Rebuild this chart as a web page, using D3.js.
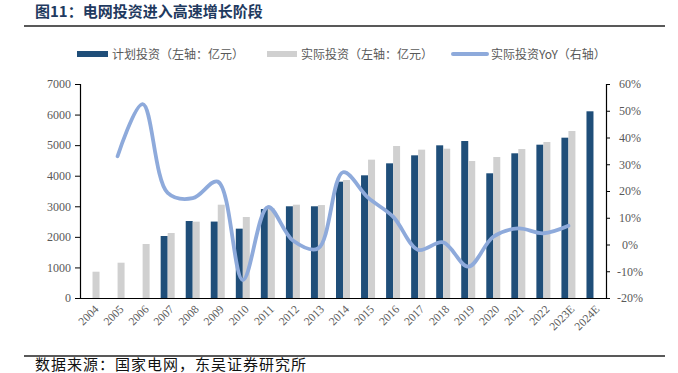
<!DOCTYPE html>
<html>
<head>
<meta charset="utf-8">
<title>电网投资进入高速增长阶段</title>
<script src="https://cdn.jsdelivr.net/npm/d3@7"></script>
<style>
  body { margin: 0; background: #fff; }
  svg { display: block; }
</style>
</head>
<body>
<div class="chart-area"></div>
<script>
// data
var years = ['2004','2005','2006','2007','2008','2009','2010','2011','2012','2013','2014',
             '2015','2016','2017','2018','2019','2020','2021','2022','2023E','2024E'];
var plan = [null, null, null, 2028, 2518, 2500, 2268, 2911, 3000, 3000, 3805,
            4013, 4405, 4667, 4994, 5135, 4079, 4733, 5015, 5244, 6107];
var actual = [860, 1155, 1766, 2126, 2497, 3052, 2650, 2930, 3052, 3040, 3860,
              4525, 4972, 4852, 4884, 4481, 4612, 4873, 5103, 5463, null];
var yoy = [null, 33, 52.5, 19.3, 17.3, 23.5, -13.3, 14, 1.5, -1.5, 27,
           17.5, 10.4, -2, 0.8, -8.3, 2.9, 6, 4.2, 7, null];
var leftTicks = [0, 1000, 2000, 3000, 4000, 5000, 6000, 7000];
var rightTicks = [-20, -10, 0, 10, 20, 30, 40, 50, 60];

var W = 678, H = 373;
var margin = { left: 80, right: 72, top: 84, bottom: 75 };
var width = W - margin.left - margin.right,
    height = H - margin.top - margin.bottom;

var serif = '"Liberation Serif", "Times New Roman", serif';
var cjk = '"Noto Sans CJK SC", sans-serif';
var planColor = '#1f4e79', actualColor = '#d0d0d0', lineColor = '#8eaadb';

var svg = d3.select('.chart-area').append('svg')
    .attr('width', W).attr('height', H);

// title + rules
svg.append('text')
    .attr('x', 35).attr('y', 17)
    .attr('font-family', cjk).attr('font-size', 15).attr('font-weight', 'bold')
    .attr('fill', '#1f3a60')
    .text('图11：电网投资进入高速增长阶段');
svg.append('line').attr('x1', 24).attr('x2', 665).attr('y1', 26).attr('y2', 26)
    .attr('stroke', '#222').attr('stroke-width', 1.5);
svg.append('line').attr('x1', 24).attr('x2', 665).attr('y1', 356).attr('y2', 356)
    .attr('stroke', '#222').attr('stroke-width', 1.5);
svg.append('text')
    .attr('x', 35).attr('y', 370)
    .attr('font-family', cjk).attr('font-size', 15).attr('letter-spacing', 1)
    .attr('fill', '#111')
    .text('数据来源：国家电网，东吴证券研究所');

// legend
var legend = [
  { label: '计划投资（左轴：亿元）', x: 77, w: 31, type: 'bar', color: planColor },
  { label: '实际投资（左轴：亿元）', x: 267, w: 30, type: 'bar', color: actualColor },
  { label: '实际投资YoY（右轴）', x: 453, w: 34, type: 'line', color: lineColor }
];
var lg = svg.append('g').selectAll('g').data(legend).enter().append('g');
lg.each(function(d) {
  var g = d3.select(this);
  if (d.type === 'bar') {
    g.append('rect').attr('x', d.x).attr('y', 51).attr('width', d.w).attr('height', 6).attr('fill', d.color);
  } else {
    g.append('line').attr('x1', d.x).attr('x2', d.x + d.w).attr('y1', 54).attr('y2', 54)
      .attr('stroke', d.color).attr('stroke-width', 4).attr('stroke-linecap', 'round');
  }
  g.append('text').attr('x', d.x + d.w + 4).attr('y', 58.5)
    .attr('font-family', cjk).attr('font-size', 12).attr('fill', '#595959')
    .text(d.label);
});

var g = svg.append('g').attr('transform', 'translate(' + margin.left + ',' + margin.top + ')');

var x = d3.scaleBand().domain(years).range([0, width]);
var yL = d3.scaleLinear().domain([0, 7000]).range([height, 0]);
var yR = d3.scaleLinear().domain([-20, 60]).range([height, 0]);
var barW = 7;

// bars
g.append('g').selectAll('rect.plan')
  .data(years.map(function(y, i) { return { year: y, v: plan[i] }; }).filter(function(d) { return d.v != null; }))
  .enter().append('rect')
  .attr('x', function(d) { return x(d.year) + x.bandwidth() / 2 - barW; })
  .attr('y', function(d) { return yL(d.v); })
  .attr('width', barW)
  .attr('height', function(d) { return height - yL(d.v); })
  .attr('fill', planColor);

g.append('g').selectAll('rect.actual')
  .data(years.map(function(y, i) { return { year: y, v: actual[i] }; }).filter(function(d) { return d.v != null; }))
  .enter().append('rect')
  .attr('x', function(d) { return x(d.year) + x.bandwidth() / 2; })
  .attr('y', function(d) { return yL(d.v); })
  .attr('width', barW)
  .attr('height', function(d) { return height - yL(d.v); })
  .attr('fill', actualColor);

// yoy line
var line = d3.line()
  .defined(function(d) { return d.v != null; })
  .x(function(d) { return x(d.year) + x.bandwidth() / 2; })
  .y(function(d) { return yR(d.v); })
  .curve(d3.curveCatmullRom.alpha(0.5));

g.append('path')
  .datum(years.map(function(y, i) { return { year: y, v: yoy[i] }; }).filter(function(d) { return d.v != null; }))
  .attr('d', line)
  .attr('fill', 'none')
  .attr('stroke', lineColor)
  .attr('stroke-width', 3.8)
  .attr('stroke-linecap', 'round');

// axes
var axL = g.append('g')
  .call(d3.axisLeft(yL).tickValues(leftTicks).tickSize(5).tickPadding(4).tickFormat(d3.format('d')));
var axR = g.append('g').attr('transform', 'translate(' + width + ',0)')
  .call(d3.axisRight(yR).tickValues(rightTicks).tickSize(4).tickPadding(10).tickFormat(function(d) { return d + '%'; }));
var axB = g.append('g').attr('transform', 'translate(0,' + height + ')')
  .call(d3.axisBottom(x).tickSize(0).tickPadding(0));

[axL, axR, axB].forEach(function(a) {
  a.select('.domain').attr('stroke', '#000').attr('stroke-width', 1.2);
  a.selectAll('.tick line').attr('stroke', '#000');
  a.selectAll('text').attr('font-family', serif).attr('font-size', 12).attr('fill', '#595959');
});
axR.selectAll('.tick text').attr('text-anchor', 'middle').attr('x', 24);
axB.selectAll('.tick text')
  .attr('font-size', 11.5)
  .attr('text-anchor', 'end')
  .attr('y', 0)
  .attr('dy', '0.35em')
  .attr('transform', 'translate(4,9) rotate(-45)');
</script>
</body>
</html>
